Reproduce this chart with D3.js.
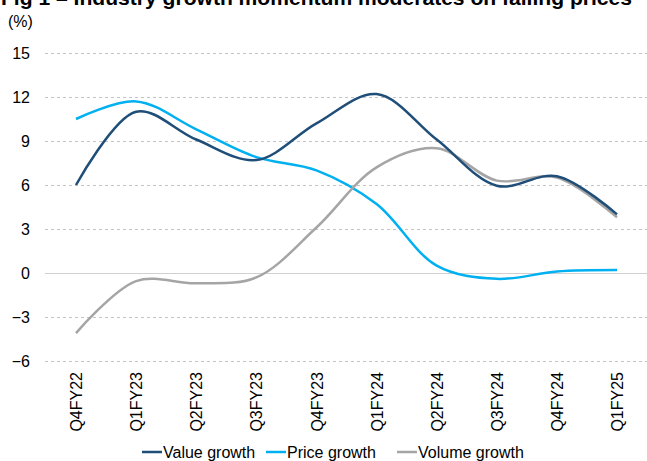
<!DOCTYPE html>
<html><head><meta charset="utf-8">
<script src="https://cdn.jsdelivr.net/npm/d3@7"></script>
<style>
body{margin:0;background:#fff;}
svg{display:block;font-family:"Liberation Sans Narrow","Arial Narrow","Liberation Sans",Arial,sans-serif;}
</style></head>
<body><svg id="c" width="647" height="461"></svg>
<script>
const categories = ["Q4FY22","Q1FY23","Q2FY23","Q3FY23","Q4FY23","Q1FY24","Q2FY24","Q3FY24","Q4FY24","Q1FY25"];
const valueGrowth  = [6.0, 11.0, 9.1, 7.7, 10.2, 12.2, 9.1, 5.95, 6.6, 4.0];
const priceGrowth  = [10.5, 11.7, 9.8, 7.9, 7.0, 4.7, 0.5, -0.4, 0.1, 0.2];
const volumeGrowth = [-4.1, -0.55, -0.7, -0.3, 3.1, 7.2, 8.5, 6.3, 6.5, 3.8];
const yTicks = [15, 12, 9, 6, 3, 0, -3, -6];
const seriesNames = ["Value growth","Price growth","Volume growth"];
const colors = ["#1F4E79","#00B0F0","#A5A5A5"];

const svg = d3.select("#c");
const x = d3.scalePoint().domain(categories).range([76, 617]);
const y = d3.scaleLinear().domain([-6, 15]).range([361, 53]);

// title (partially cut off at top)
svg.append("text").attr("x", 1).attr("y", 5)
  .attr("font-family","'Liberation Sans',Arial,sans-serif")
  .attr("font-weight","bold").attr("font-size",20)
  .attr("textLength",631).attr("lengthAdjust","spacingAndGlyphs")
  .attr("fill","#000")
  .text("Fig 1 \u2013 Industry growth momentum moderates on falling prices");

svg.append("text").attr("x", 8).attr("y", 27).attr("font-size",16).attr("fill","#000").text("(%)");

// gridlines
svg.append("g").selectAll("line").data(yTicks).join("line")
  .attr("x1",45).attr("x2",647)
  .attr("y1",d=>y(d)+0.5).attr("y2",d=>y(d)+0.5)
  .attr("stroke", d=> d===0 ? "#d0d0d0" : "#c4c4c4")
  .attr("stroke-width",1)
  .attr("stroke-dasharray", d=> d===0 ? null : "3,3");

// y axis labels
const yAxis = d3.axisLeft(y).tickValues(yTicks).tickSize(0).tickPadding(0);
const gy = svg.append("g").attr("transform","translate(30,0)").call(yAxis);
gy.select(".domain").remove();
gy.selectAll("text").attr("font-size",16).attr("fill","#000")
  .attr("font-family","'Liberation Sans Narrow','Arial Narrow',Arial,sans-serif");

// x axis labels
const xAxis = d3.axisBottom(x).tickSize(0).tickPadding(0);
const gx = svg.append("g").attr("transform","translate(0,372)").call(xAxis);
gx.select(".domain").remove();
gx.selectAll("text").attr("font-size",16).attr("fill","#000")
  .attr("font-family","'Liberation Sans Narrow','Arial Narrow',Arial,sans-serif")
  .attr("transform","rotate(-90)").attr("text-anchor","end")
  .attr("x",0).attr("y",0).attr("dy","0.35em");

// lines
const allSeries = [valueGrowth, priceGrowth, volumeGrowth];
const line = d3.line().x((d,i)=>x(categories[i])).y(d=>y(d)).curve(d3.curveCatmullRom.alpha(0.5));
const drawOrder = [1,2,0];
svg.append("g").selectAll("path").data(drawOrder).join("path")
  .attr("d", k=>line(allSeries[k]))
  .attr("fill","none").attr("stroke",k=>colors[k]).attr("stroke-width",2.5)
  .attr("stroke-linejoin","round");

// legend
const legX = [142, 266, 397];
const leg = svg.append("g");
seriesNames.forEach((n,i)=>{
  leg.append("line").attr("x1",legX[i]).attr("x2",legX[i]+20).attr("y1",452).attr("y2",452)
    .attr("stroke",colors[i]).attr("stroke-width",2.5);
  leg.append("text").attr("x",legX[i]+21).attr("y",458).attr("font-size",16).attr("fill","#000").text(n);
});
</script></body></html>
